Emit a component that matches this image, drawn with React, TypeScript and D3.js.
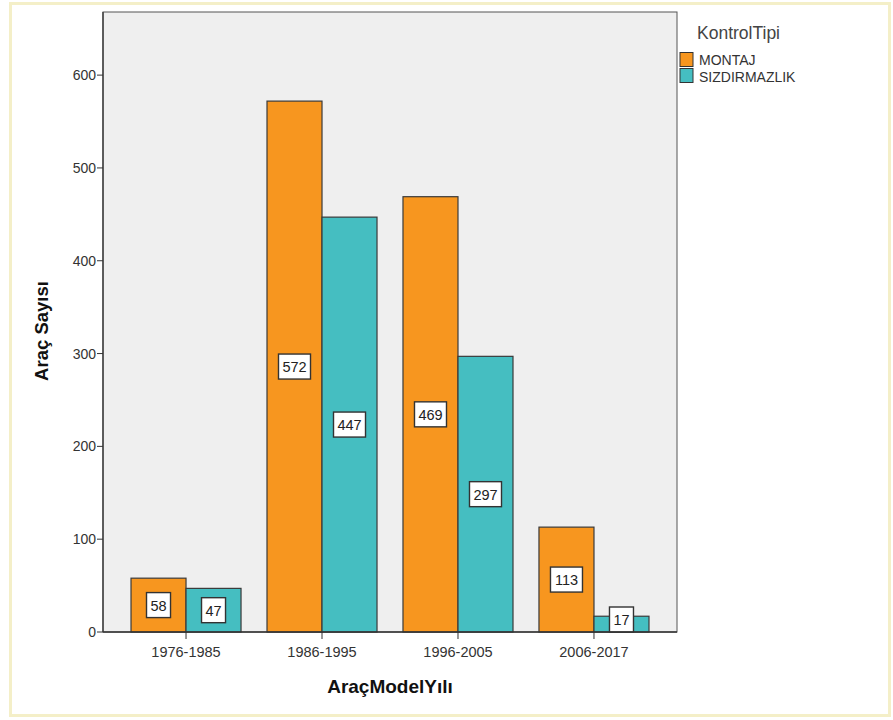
import React from "react";
import * as d3 from "d3";

const categories = ["1976-1985", "1986-1995", "1996-2005", "2006-2017"];
const seriesNames = ["MONTAJ", "SIZDIRMAZLIK"];
const montaj = [58, 572, 469, 113];
const sizdirmazlik = [47, 447, 297, 17];
const yTicks = [0, 100, 200, 300, 400, 500, 600];
const colors = ["#f7961f", "#45bec1"];

const W = 893;
const H = 720;
const plot = { left: 103, right: 677, top: 12, bottom: 632 };
const font = "'Liberation Sans', Arial, sans-serif";

export default function App() {
  const x = d3
    .scaleBand<string>()
    .domain(categories)
    .range([plot.left, plot.right])
    .paddingInner(0.191)
    .paddingOuter(0.206);
  const sub = d3
    .scaleBand<string>()
    .domain(seriesNames)
    .range([0, x.bandwidth()]);
  const y = d3.scaleLinear().domain([0, 668]).range([plot.bottom, plot.top]);

  const series = [montaj, sizdirmazlik];

  return (
    <svg
      width={W}
      height={H}
      style={{ position: "absolute", left: 0, top: 0, fontFamily: font }}
    >
      <rect x={0} y={0} width={W} height={H} fill="#ffffff" />
      <rect
        x={10.5}
        y={3.5}
        width={879}
        height={712}
        fill="#ffffff"
        stroke="#f4efc8"
        strokeWidth={3}
      />
      <rect
        x={plot.left}
        y={plot.top}
        width={plot.right - plot.left}
        height={plot.bottom - plot.top}
        fill="#efefef"
        stroke="#555"
        strokeWidth={1}
      />

      {/* bars */}
      {categories.map((c, i) =>
        seriesNames.map((s, j) => {
          const v = series[j][i];
          const bx = (x(c) ?? 0) + (sub(s) ?? 0);
          return (
            <rect
              key={c + s}
              x={bx}
              y={y(v)}
              width={sub.bandwidth()}
              height={y(0) - y(v)}
              fill={colors[j]}
              stroke="#3a3a3a"
              strokeWidth={1.2}
            />
          );
        })
      )}

      {/* value labels */}
      {categories.map((c, i) =>
        seriesNames.map((s, j) => {
          const v = series[j][i];
          const cx = (x(c) ?? 0) + (sub(s) ?? 0) + sub.bandwidth() / 2;
          const txt = String(v);
          const bw = txt.length >= 3 ? 32 : 24;
          const bh = 25;
          let cy = (y(v) + y(0)) / 2;
          if (cy + bh / 2 > plot.bottom) cy = plot.bottom - bh / 2;
          return (
            <g key={"l" + c + s}>
              <rect
                x={cx - bw / 2}
                y={cy - bh / 2}
                width={bw}
                height={bh}
                fill="#ffffff"
                stroke="#333"
                strokeWidth={1.4}
              />
              <text
                x={cx}
                y={cy + 5.5}
                textAnchor="middle"
                fontSize={14.5}
                fill="#222"
              >
                {txt}
              </text>
            </g>
          );
        })
      )}

      {/* y axis */}
      <line
        x1={plot.left}
        x2={plot.left}
        y1={plot.top}
        y2={plot.bottom}
        stroke="#444"
        strokeWidth={1.5}
      />
      {yTicks.map((t) => (
        <g key={t}>
          <line
            x1={plot.left - 6}
            x2={plot.left}
            y1={y(t)}
            y2={y(t)}
            stroke="#333"
            strokeWidth={1}
          />
          <text
            x={plot.left - 7}
            y={y(t) + 5}
            textAnchor="end"
            fontSize={14}
            fill="#333"
          >
            {t}
          </text>
        </g>
      ))}

      {/* x axis */}
      <line
        x1={plot.left}
        x2={plot.right}
        y1={plot.bottom}
        y2={plot.bottom}
        stroke="#333"
        strokeWidth={1.5}
      />
      {categories.map((c) => {
        const cx = (x(c) ?? 0) + x.bandwidth() / 2;
        return (
          <g key={c}>
            <line
              x1={cx}
              x2={cx}
              y1={plot.bottom}
              y2={plot.bottom + 7}
              stroke="#333"
              strokeWidth={1}
            />
            <text
              x={cx}
              y={plot.bottom + 25}
              textAnchor="middle"
              fontSize={14.5}
              fill="#333"
            >
              {c}
            </text>
          </g>
        );
      })}

      {/* axis titles */}
      <text
        x={(plot.left + plot.right) / 2}
        y={693}
        textAnchor="middle"
        fontSize={19}
        fontWeight="bold"
        fill="#111"
      >
        AraçModelYılı
      </text>
      <text
        transform={`translate(48, ${(plot.top + plot.bottom) / 2 + 9}) rotate(-90)`}
        textAnchor="middle"
        fontSize={18.5}
        fontWeight="bold"
        fill="#111"
      >
        Araç Sayısı
      </text>

      {/* legend */}
      <text x={697} y={39} fontSize={17.5} fill="#444">
        KontrolTipi
      </text>
      {seriesNames.map((s, j) => (
        <g key={s}>
          <rect
            x={680}
            y={52.5 + j * 16}
            width={13}
            height={14}
            fill={colors[j]}
            stroke="#333"
            strokeWidth={1}
          />
          <text x={699} y={65 + j * 17} fontSize={14} fill="#333">
            {s}
          </text>
        </g>
      ))}
    </svg>
  );
}
